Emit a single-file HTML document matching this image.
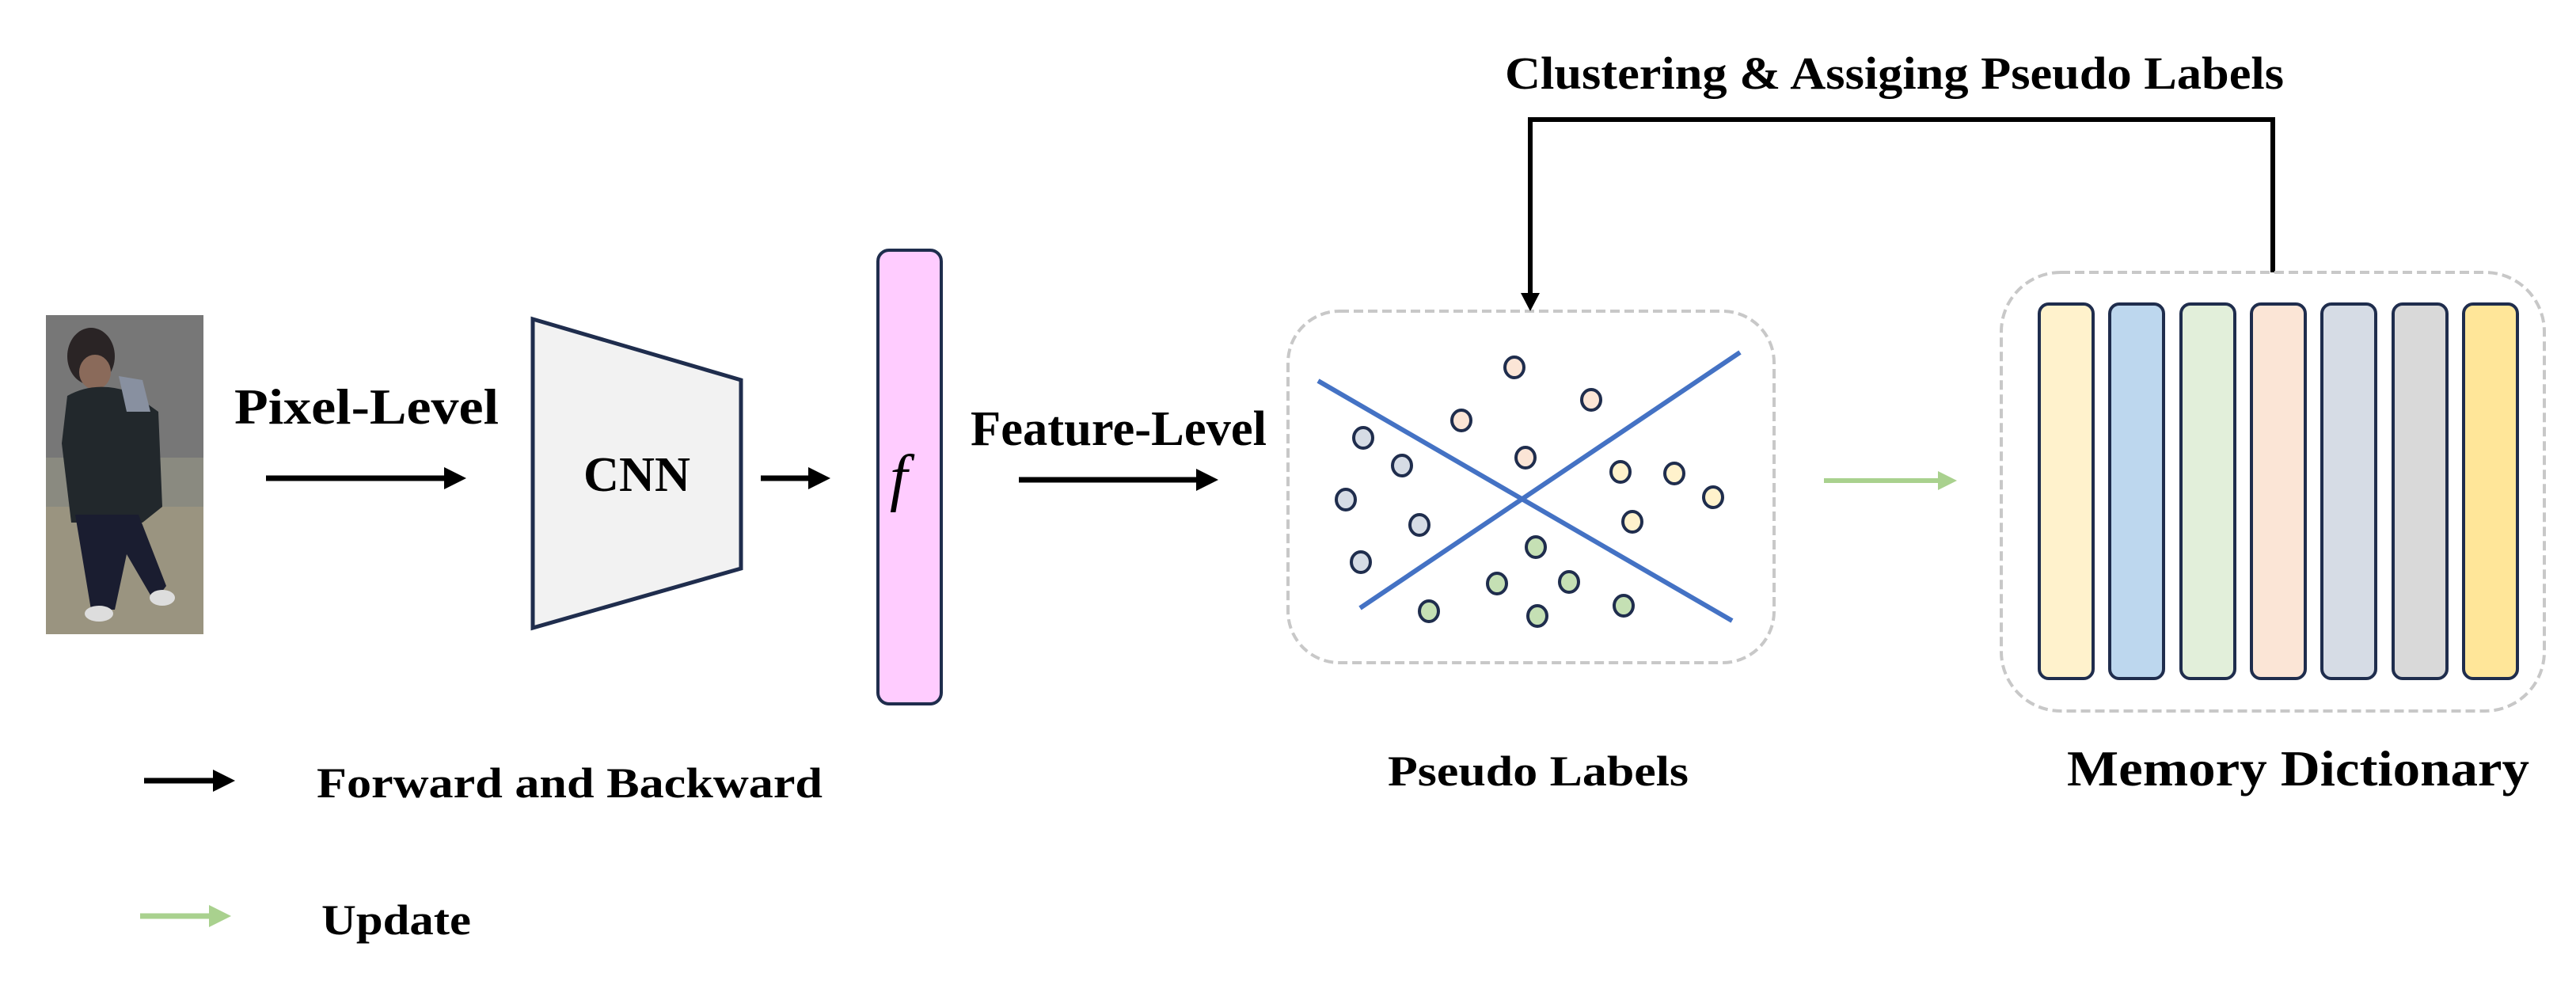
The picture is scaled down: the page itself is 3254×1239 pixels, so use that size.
<!DOCTYPE html>
<html><head><meta charset="utf-8"><style>
html,body{margin:0;padding:0;background:#fff;}
svg{display:block;}
text{font-family:"Liberation Serif",serif;font-weight:bold;fill:#000;}
</style></head><body>
<svg width="3254" height="1239" viewBox="0 0 3254 1239" xmlns="http://www.w3.org/2000/svg">
<defs>
<marker id="ab" markerWidth="4" markerHeight="4" refX="2" refY="2" orient="auto" markerUnits="strokeWidth"><path d="M0,0 L4,2 L0,4 Z" fill="#000"/></marker>
<marker id="ag" markerWidth="4" markerHeight="4" refX="2" refY="2" orient="auto" markerUnits="strokeWidth"><path d="M0,0 L4,2 L0,4 Z" fill="#a9d18e"/></marker>
</defs>
<!-- person image -->
<rect x="58" y="398" width="199" height="403" fill="#8a8a80"/>
<rect x="58" y="398" width="199" height="180" fill="#777"/>
<rect x="58" y="640" width="199" height="161" fill="#9a9480"/>
<ellipse cx="115" cy="450" rx="30" ry="36" fill="#2a2425"/>
<ellipse cx="120" cy="470" rx="20" ry="22" fill="#8a6a5a"/>
<path d="M85,500 Q120,480 165,495 L200,520 L205,640 L180,660 L90,660 L78,560 Z" fill="#22282c"/>
<path d="M150,475 L180,480 L190,520 L160,520 Z" fill="#8890a0"/>
<path d="M95,650 L175,650 L210,740 L195,760 L160,700 L145,770 L115,770 Z" fill="#1a1d30"/>
<ellipse cx="125" cy="775" rx="18" ry="10" fill="#ddd"/>
<ellipse cx="205" cy="755" rx="16" ry="10" fill="#ddd"/>

<!-- Pixel-Level -->
<text x="296" y="535" font-size="64" textLength="334" lengthAdjust="spacingAndGlyphs">Pixel-Level</text>
<line x1="336" y1="604" x2="575" y2="604" stroke="#000" stroke-width="7" marker-end="url(#ab)"/>

<!-- CNN -->
<polygon points="673,403 936,480 936,718 673,793" fill="#f2f2f2" stroke="#1f2d4d" stroke-width="5"/>
<text x="737" y="620" font-size="62" textLength="135" lengthAdjust="spacingAndGlyphs">CNN</text>
<line x1="961" y1="604" x2="1035" y2="604" stroke="#000" stroke-width="7" marker-end="url(#ab)"/>

<!-- f bar -->
<rect x="1109" y="316" width="80" height="573" rx="14" fill="#ffccff" stroke="#1f2d4d" stroke-width="4"/>
<text x="1124" y="630" font-size="80" style="font-style:italic;font-weight:normal">f</text>

<!-- Feature-Level -->
<text x="1226" y="562" font-size="62" textLength="374" lengthAdjust="spacingAndGlyphs">Feature-Level</text>
<line x1="1287" y1="606" x2="1525" y2="606" stroke="#000" stroke-width="7" marker-end="url(#ab)"/>

<!-- Pseudo box -->
<rect x="1627" y="393" width="614" height="444" rx="65" fill="none" stroke="#c8c8c8" stroke-width="4" stroke-dasharray="12,6"/>
<line x1="1665" y1="481" x2="2188" y2="784" stroke="#4472c4" stroke-width="6"/>
<line x1="1718" y1="768" x2="2198" y2="445" stroke="#4472c4" stroke-width="6"/>
<g stroke="#1f2d4d" stroke-width="4">
<g fill="#fbe5d6">
<ellipse cx="1913" cy="464" rx="12" ry="13"/><ellipse cx="2010" cy="505" rx="12" ry="13"/>
<ellipse cx="1846" cy="531" rx="12" ry="13"/><ellipse cx="1927" cy="578" rx="12" ry="13"/>
</g>
<g fill="#d6dce5">
<ellipse cx="1722" cy="553" rx="12" ry="13"/><ellipse cx="1771" cy="588" rx="12" ry="13"/>
<ellipse cx="1700" cy="631" rx="12" ry="13"/><ellipse cx="1793" cy="663" rx="12" ry="13"/>
<ellipse cx="1719" cy="710" rx="12" ry="13"/>
</g>
<g fill="#fff2cc">
<ellipse cx="2047" cy="596" rx="12" ry="13"/><ellipse cx="2115" cy="598" rx="12" ry="13"/>
<ellipse cx="2164" cy="628" rx="12" ry="13"/><ellipse cx="2062" cy="659" rx="12" ry="13"/>
</g>
<g fill="#c5e0b4">
<ellipse cx="1940" cy="691" rx="12" ry="13"/><ellipse cx="1891" cy="737" rx="12" ry="13"/>
<ellipse cx="1982" cy="735" rx="12" ry="13"/><ellipse cx="1805" cy="772" rx="12" ry="13"/>
<ellipse cx="1942" cy="778" rx="12" ry="13"/><ellipse cx="2051" cy="765" rx="12" ry="13"/>
</g>
</g>
<text x="1753" y="992" font-size="54" textLength="380" lengthAdjust="spacingAndGlyphs">Pseudo Labels</text>

<!-- feedback -->
<text x="1901" y="112" font-size="58" textLength="984" lengthAdjust="spacingAndGlyphs">Clustering &amp; Assiging Pseudo Labels</text>
<polyline points="2871,344 2871,151 1933,151 1933,372" fill="none" stroke="#000" stroke-width="6"/>
<path d="M1921,370 L1945,370 L1933,393 Z" fill="#000"/>

<!-- green arrow -->
<line x1="2304" y1="607" x2="2460" y2="607" stroke="#a9d18e" stroke-width="6" marker-end="url(#ag)"/>

<!-- Memory box -->
<rect x="2528" y="344" width="686" height="554" rx="75" fill="none" stroke="#c8c8c8" stroke-width="4" stroke-dasharray="12,6"/>
<g stroke="#1f2d4d" stroke-width="4">
<rect x="2576" y="384" width="68" height="473" rx="12" fill="#fff2cc"/>
<rect x="2665" y="384" width="68" height="473" rx="12" fill="#bdd7ee"/>
<rect x="2755" y="384" width="68" height="473" rx="12" fill="#e2efda"/>
<rect x="2844" y="384" width="68" height="473" rx="12" fill="#fbe5d6"/>
<rect x="2933" y="384" width="68" height="473" rx="12" fill="#d6dce5"/>
<rect x="3023" y="384" width="68" height="473" rx="12" fill="#d9d9d9"/>
<rect x="3112" y="384" width="68" height="473" rx="12" fill="#ffe699"/>
</g>
<text x="2611" y="992" font-size="64" textLength="584" lengthAdjust="spacingAndGlyphs">Memory Dictionary</text>

<!-- legend -->
<line x1="182" y1="986" x2="283" y2="986" stroke="#000" stroke-width="7" marker-end="url(#ab)"/>
<text x="400" y="1007" font-size="54" textLength="639" lengthAdjust="spacingAndGlyphs">Forward and Backward</text>
<line x1="177" y1="1157" x2="278" y2="1157" stroke="#a9d18e" stroke-width="7" marker-end="url(#ag)"/>
<text x="406" y="1180" font-size="54" textLength="189" lengthAdjust="spacingAndGlyphs">Update</text>
</svg>
</body></html>
